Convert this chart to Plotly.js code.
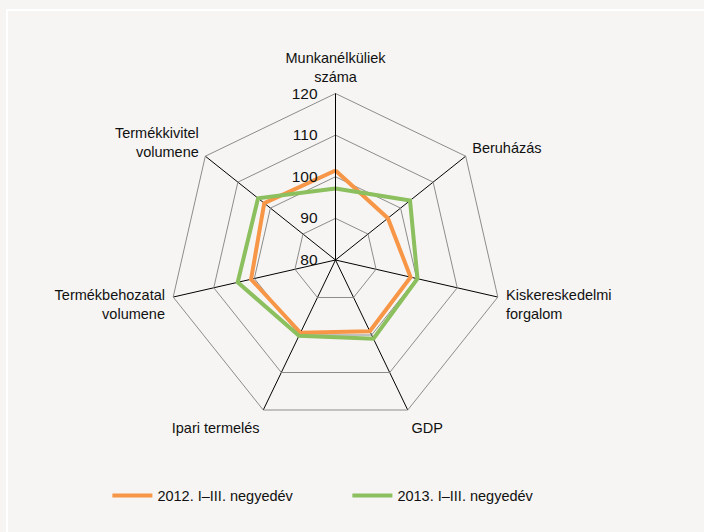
<!DOCTYPE html>
<html>
<head>
<meta charset="utf-8">
<script src="https://cdn.plot.ly/plotly-3.0.1.min.js"></script>
<style>
html,body{margin:0;padding:0;background:#f6f5f3;}
#wrap{position:relative;width:704px;height:532px;overflow:hidden;}
#chart{width:704px;height:532px;}
#frame{position:absolute;left:6px;top:9px;width:720px;height:560px;border-top:2px solid #ffffff;border-left:2px solid #ffffff;pointer-events:none;}
</style>
</head>
<body>
<div id="wrap"><div id="chart"></div><div id="frame"></div></div>
<script>
const categories = ["Munkanélküliek<br>száma", "Beruházás", "Kiskereskedelmi<br>forgalom", "GDP", "Ipari termelés", "Termékbehozatal<br>volumene", "Termékkivitel<br>volumene"];
const series2012 = [101.5, 96.1, 98.5, 99.0, 99.4, 100.8, 101.9];
const series2013 = [97.2, 102.9, 100.2, 101.0, 100.2, 104.1, 103.8];
const radialTicks = [80, 90, 100, 110, 120];
const seriesNames = ["2012. I–III. negyedév", "2013. I–III. negyedév"];

const FONT = "'Liberation Sans', Arial, sans-serif";
const FS = 14.5;
const close = a => a.concat([a[0]]);
const theta = close(categories);

const traces = [
  {type:'scatterpolar', mode:'lines', r: close(series2012), theta: theta, name: seriesNames[0],
   line:{color:'#f79646', width:4}},
  {type:'scatterpolar', mode:'lines', r: close(series2013), theta: theta, name: seriesNames[1],
   line:{color:'#8cbf5e', width:4}}
];

const layout = {
  width:704, height:532,
  paper_bgcolor:'#f6f5f3',
  margin:{l:168.5, r:201.5, t:93, b:105},
  font:{family:FONT, size:FS, color:'#111'},
  showlegend:true,
  legend:{orientation:'h', x:-0.185, xanchor:'left', y:-0.205, yanchor:'middle',
          font:{family:FONT, size:FS, color:'#111'}, bgcolor:'rgba(0,0,0,0)',
          itemwidth:40, entrywidth:185},
  polar:{
    bgcolor:'rgba(0,0,0,0)',
    domain:{x:[0,1], y:[0,1]},
    gridshape:'linear',
    angularaxis:{direction:'clockwise', rotation:90, showline:true, linecolor:'#8c8c8c', linewidth:1,
      gridcolor:'#000000', gridwidth:1, ticks:'outside', ticklen:5, tickcolor:'rgba(0,0,0,0)',
      tickfont:{family:FONT, size:FS, color:'#111'}},
    radialaxis:{range:[80,120], tickvals:radialTicks, angle:90, side:'counterclockwise', tickangle:90,
      showline:true, linecolor:'#000', linewidth:1, gridcolor:'#8c8c8c', gridwidth:1,
      ticks:'outside', ticklen:12, tickcolor:'rgba(0,0,0,0)', tickfont:{family:FONT, size:15.5, color:'#111'}}
  }
};
Plotly.newPlot('chart', traces, layout, {displayModeBar:false, staticPlot:true});
</script>
</body>
</html>
